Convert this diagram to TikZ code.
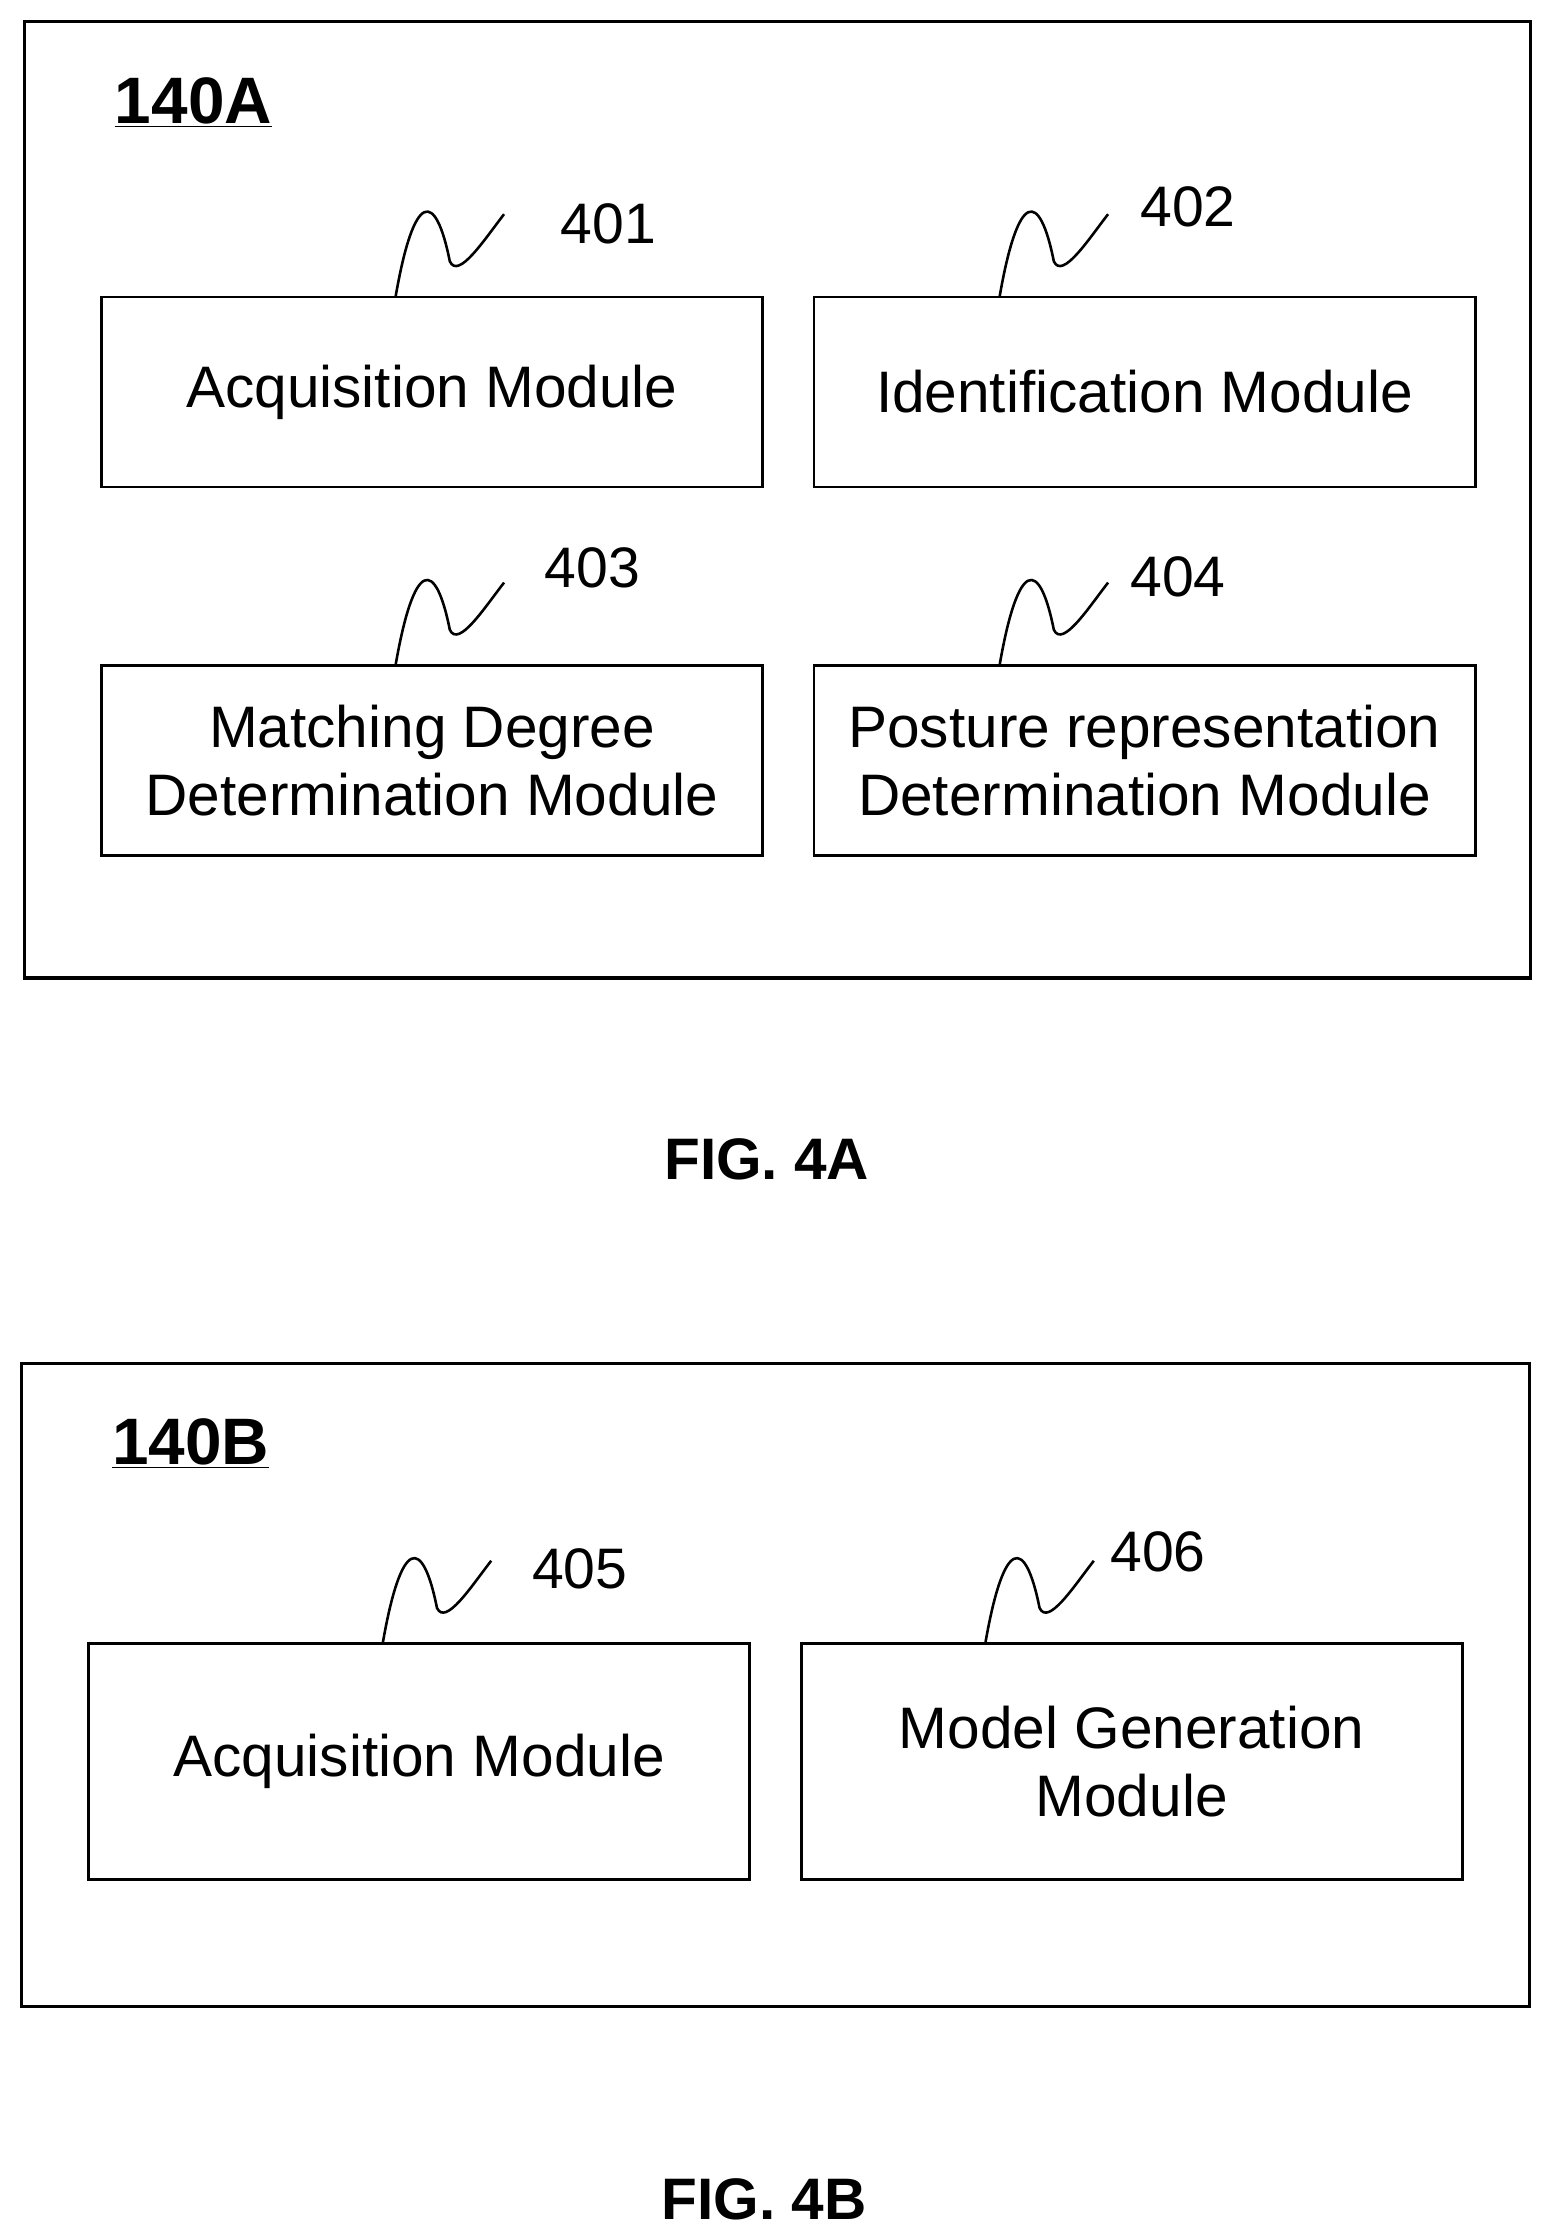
\documentclass[tikz,border=0pt]{standalone}
\usepackage{fontspec}
\setmainfont{Liberation Sans}
\begin{document}
\begin{tikzpicture}[x=1pt,y=-1pt,
  box/.style={draw,line width=2pt,inner sep=0pt,align=center,font=\fontsize{41}{48}\selectfont},
  outer/.style={draw,line width=2.4pt},
  num/.style={font=\fontsize{40}{44}\selectfont},
  ttl/.style={font=\bfseries\fontsize{46}{50}\selectfont},
  sq/.style={line width=1.8pt}]
\useasboundingbox (0,0) rectangle (1087,1568);
\draw[outer] (17,15) rectangle (1072,685);
\draw[outer] (15,955) rectangle (1071,1405);
\node[ttl,anchor=west] (t1) at (77,72) {\underline{140A}};
\node[ttl,anchor=west] (t2) at (75,1011) {\underline{140B}};
\node[box,minimum width=463pt,minimum height=133pt] (b1) at (302.5,274.5) {Acquisition Module};
\node[box,minimum width=463pt,minimum height=133pt] (b2) at (801.5,274.5) {Identification Module};
\node[box,minimum width=463pt,minimum height=133pt] (b3) at (302.5,532.5) {Matching Degree\\Determination Module};
\node[box,minimum width=463pt,minimum height=133pt] (b4) at (801.5,532.5) {Posture representation\\Determination Module};
\node[box,minimum width=463pt,minimum height=165pt] (b5) at (293.5,1233.5) {Acquisition Module};
\node[box,minimum width=463pt,minimum height=165pt] (b6) at (792.5,1233.5) {Model Generation\\Module};
\foreach \n/\x/\y/\lx/\ly/\t in {s1/277/208/426/157/401, s2/700/208/832/145/402, s3/277/466/415/398/403, s4/700/466/825/404/404, s5/268/1151/406/1099/405, s6/690/1151/811/1087/406}{
  \coordinate (\n a) at (\x,\y);
  \coordinate (\n b) at (\x+76,\y-58);
  \draw[sq] (\n a) .. controls (\x+13,\y-75) and (\x+28,\y-75) .. (\x+38,\y-25) .. controls (\x+44,\y-12) and (\x+62,\y-40) .. (\n b);
  \node[num] (\n n) at (\lx,\ly) {\t};
}
\node[font=\bfseries\fontsize{41}{44}\selectfont] (f1) at (537,812) {FIG. 4A};
\node[font=\bfseries\fontsize{41}{44}\selectfont] (f2) at (535,1540) {FIG. 4B};
\end{tikzpicture}
\end{document}
